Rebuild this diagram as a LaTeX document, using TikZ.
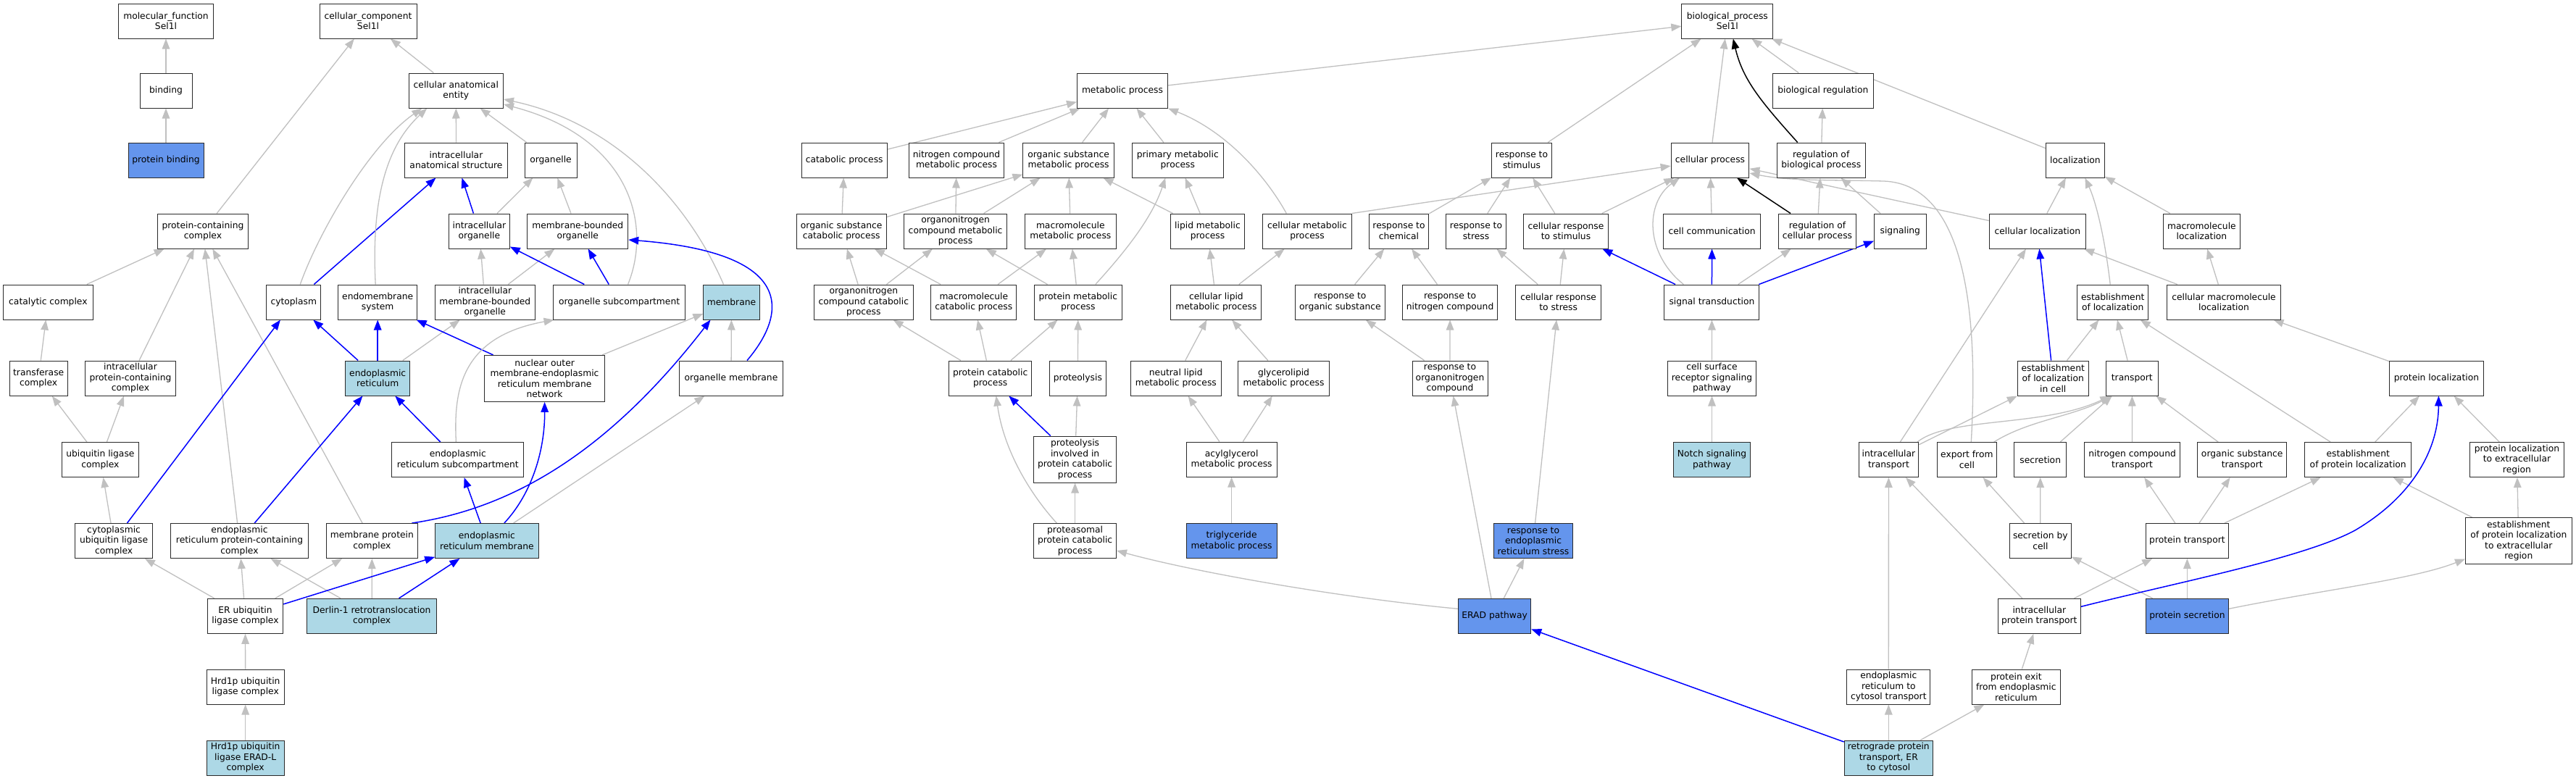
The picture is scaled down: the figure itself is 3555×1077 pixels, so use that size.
\documentclass[tikz,border=0pt]{standalone}
\usepackage{fontspec}
\setmainfont{DejaVu Sans}
\usetikzlibrary{arrows.meta}
\pgfdeclarelayer{bg}
\pgfsetlayers{bg,main}
\definecolor{edgegray}{HTML}{C0C0C0}
\definecolor{lblue}{HTML}{ADD8E6}
\definecolor{cblue}{HTML}{6495ED}
\definecolor{boxline}{HTML}{2A2A2A}
\newcommand{\gonode}[5][]{\node[gobox,minimum width=#3pt,#1] (#2) at (#4) {#5};}
\begin{document}
\begin{tikzpicture}[x=1pt,y=-1pt,
  gobox/.style={draw=boxline, line width=1.0pt, fill=white, rectangle, align=center, inner sep=0pt, minimum height=48pt, font=\fontsize{12.3}{14.5}\selectfont},
  tall/.style={minimum height=64pt},
  hi/.style={fill=lblue},
  hit/.style={fill=cblue},
  grayedge/.style={draw=edgegray, line width=1.3pt, -{Triangle[length=14pt,width=10.5pt]}},
  blueedge/.style={draw=blue, line width=1.5pt, -{Triangle[length=14pt,width=10.5pt]}},
  blackedge/.style={draw=black, line width=1.5pt, -{Triangle[length=14pt,width=10.5pt]}}]
\useasboundingbox (0,0) rectangle (3555,1077);
% ---------- left: molecular function / cellular component
\gonode{mf}{131}{229,29}{molecular\_function\\Sel1l}
\gonode{cc}{134}{508,29}{cellular\_component\\Sel1l}
\gonode{binding}{72}{229,125}{binding}
\gonode[hit]{pbind}{104}{229,221}{protein binding}
\gonode{pcc}{125}{280,319}{protein-containing\\complex}
\gonode{catc}{123.6}{66.4,417}{catalytic complex}
\gonode{cytop}{75}{405.3,417}{cytoplasm}
\gonode{endo}{109.5}{521.2,417}{endomembrane\\system}
\gonode{trans}{80.4}{53.2,522}{transferase\\complex}
\gonode{ipcc}{125.5}{180,522}{intracellular\\protein-containing\\complex}
\gonode[hi]{er}{88.8}{521.2,522}{endoplasmic\\reticulum}
\gonode{cae}{130.4}{629.3,125}{cellular anatomical\\entity}
\gonode{ias}{141.5}{629.5,221}{intracellular\\anatomical structure}
\gonode{organelle}{72}{760,221}{organelle}
\gonode{iorg}{83.8}{661.4,319}{intracellular\\organelle}
\gonode{mbo}{138.9}{797.3,319}{membrane-bounded\\organelle}
\gonode{imbo}{138.5}{669.3,417}{intracellular\\membrane-bounded\\organelle}
\gonode{osub}{181.8}{854.6,417}{organelle subcompartment}
\gonode[hi]{membrane}{77.3}{1009.5,417}{membrane}
\gonode[tall]{nuc}{165.7}{751.6,522.4}{nuclear outer\\membrane-endoplasmic\\reticulum membrane\\network}
\gonode{orgmem}{142.3}{1009,522}{organelle membrane}
\gonode{ubl}{106.8}{138.4,634.5}{ubiquitin ligase\\complex}
\gonode{erbsub}{182}{631.8,634.5}{endoplasmic\\reticulum subcompartment}
\gonode{cubl}{106.8}{157.1,746.5}{cytoplasmic\\ubiquitin ligase\\complex}
\gonode{erpcc}{190.2}{330.5,746.5}{endoplasmic\\reticulum protein-containing\\complex}
\gonode{mpc}{126}{513.4,746.5}{membrane protein\\complex}
\gonode[hi]{erm}{142.4}{671.9,746.5}{endoplasmic\\reticulum membrane}
\gonode{erubl}{104.5}{338.5,850.3}{ER ubiquitin\\ligase complex}
\gonode[hi]{derlin}{179}{513.1,850.3}{Derlin-1 retrotranslocation\\complex}
\gonode{hrd}{107.2}{338.7,948}{Hrd1p ubiquitin\\ligase complex}
\gonode[hi]{hrdl}{107.2}{338.7,1046}{Hrd1p ubiquitin\\ligase ERAD-L\\complex}
% ---------- middle: metabolic
\gonode{met}{125}{1549,125}{metabolic process}
\gonode{catp}{118.3}{1165.2,221}{catabolic process}
\gonode{ncmp}{131.2}{1320,221}{nitrogen compound\\metabolic process}
\gonode{osmp}{125.4}{1474.6,221}{organic substance\\metabolic process}
\gonode{pmp}{125.9}{1625.3,221}{primary metabolic\\process}
\gonode{oscp}{123.6}{1161.2,319}{organic substance\\catabolic process}
\gonode{oncmp}{142}{1318.6,319}{organonitrogen\\compound metabolic\\process}
\gonode{mmp}{125.4}{1477.3,319}{macromolecule\\metabolic process}
\gonode{lmp}{102.3}{1666.5,319}{lipid metabolic\\process}
\gonode{cmp}{122.5}{1804,319}{cellular metabolic\\process}
\gonode{onccp}{136.6}{1191.8,417}{organonitrogen\\compound catabolic\\process}
\gonode{mcp}{118.3}{1343.8,417}{macromolecule\\catabolic process}
\gonode{protmp}{120.5}{1487.8,417}{protein metabolic\\process}
\gonode{clmp}{125}{1678.4,417}{cellular lipid\\metabolic process}
\gonode{pcp}{114.3}{1366.7,522}{protein catabolic\\process}
\gonode{proteo}{77.9}{1487.4,522}{proteolysis}
\gonode{nlmp}{125.6}{1622.8,522}{neutral lipid\\metabolic process}
\gonode{glmp}{125.6}{1771.5,522}{glycerolipid\\metabolic process}
\gonode[tall]{proinv}{113.7}{1483.6,634}{proteolysis\\involved in\\protein catabolic\\process}
\gonode{acyl}{125}{1699.6,634}{acylglycerol\\metabolic process}
\gonode{proteas}{113.7}{1483.6,746.5}{proteasomal\\protein catabolic\\process}
\gonode[hit]{trig}{125}{1699.6,746.5}{triglyceride\\metabolic process}
\gonode[hit]{rerstress}{108.7}{2116,746.5}{response to\\endoplasmic\\reticulum stress}
\gonode[hit]{erad}{100.3}{2062.6,850.3}{ERAD pathway}
% ---------- right: biological process
\gonode{bp}{126}{2383.8,29}{biological\_process\\Sel1l}
\gonode{bioreg}{139}{2515.8,125}{biological regulation}
\gonode{rstim}{82.6}{2100,221}{response to\\stimulus}
\gonode{cellp}{107.7}{2360,221}{cellular process}
\gonode{rbp}{122.4}{2513.2,221}{regulation of\\biological process}
\gonode{loc}{80.5}{2863.9,221}{localization}
\gonode{rchem}{82.6}{1930.5,319}{response to\\chemical}
\gonode{rstress}{83.2}{2037,319}{response to\\stress}
\gonode{crstim}{117.4}{2161,319}{cellular response\\to stimulus}
\gonode{ccomm}{134.7}{2362.6,319}{cell communication}
\gonode{rcp}{107}{2508,319}{regulation of\\cellular process}
\gonode{signaling}{71.6}{2622.3,319}{signaling}
\gonode{cloc}{133.2}{2811.8,319}{cellular localization}
\gonode{mloc}{106.6}{3038.4,319}{macromolecule\\localization}
\gonode{ros}{123.4}{1849.4,417}{response to\\organic substance}
\gonode{rnc}{131.1}{2001.1,417}{response to\\nitrogen compound}
\gonode{crstress}{117.9}{2150.6,417}{cellular response\\to stress}
\gonode{sigtr}{131.1}{2362.4,417}{signal transduction}
\gonode{eloc}{98.4}{2915.7,417}{establishment\\of localization}
\gonode{cmloc}{157.4}{3069,417}{cellular macromolecule\\localization}
\gonode{rono}{104}{2001,522}{response to\\organonitrogen\\compound}
\gonode{csrsp}{122.5}{2362.5,522}{cell surface\\receptor signaling\\pathway}
\gonode{elocc}{98.4}{2833.2,522}{establishment\\of localization\\in cell}
\gonode{transport}{71.8}{2942.3,522}{transport}
\gonode{ploc}{130.1}{3362.4,522}{protein localization}
\gonode[hi]{notch}{106.6}{2362.5,634.5}{Notch signaling\\pathway}
\gonode{itrans}{82.3}{2606.4,634.5}{intracellular\\transport}
\gonode{expc}{82}{2714.3,634.5}{export from\\cell}
\gonode{secr}{72.2}{2815.7,634.5}{secretion}
\gonode{nct}{131.3}{2942.6,634.5}{nitrogen compound\\transport}
\gonode{ost}{123.1}{3094.2,634.5}{organic substance\\transport}
\gonode{eploc}{147}{3254.2,634.5}{establishment\\of protein localization}
\gonode{plocer}{129.9}{3473.4,634.5}{protein localization\\to extracellular\\region}
\gonode{secbc}{84.7}{2815.8,746.5}{secretion by\\cell}
\gonode{ptrans}{114.2}{3018.4,746.5}{protein transport}
\gonode[tall]{eplocer}{146.6}{3475.8,746.5}{establishment\\of protein localization\\to extracellular\\region}
\gonode{iptrans}{114.2}{2814.3,850.3}{intracellular\\protein transport}
\gonode[hit]{psecr}{114.2}{3018.4,850.3}{protein secretion}
\gonode{ercyt}{115}{2606.3,948}{endoplasmic\\reticulum to\\cytosol transport}
\gonode{pexit}{122.3}{2782.3,948}{protein exit\\from endoplasmic\\reticulum}
\gonode[hi]{retro}{122.3}{2606.3,1046}{retrograde protein\\transport, ER\\to cytosol}
% ---------- edges
\begin{pgfonlayer}{bg}
\fill[white] (0,0) rectangle (3555,1077);
\foreach \a/\b in {binding/mf, pbind/binding, pcc/cc, cae/cc, ias/cae, organelle/cae,
  iorg/organelle, mbo/organelle, imbo/iorg, imbo/mbo, orgmem/membrane, nuc/membrane,
  catc/pcc, ipcc/pcc, erpcc/pcc, mpc/pcc, trans/catc, ubl/trans, ubl/ipcc, cubl/ubl,
  er/imbo, erm/orgmem, erubl/cubl, erubl/erpcc, erubl/mpc, derlin/erpcc, derlin/mpc,
  hrd/erubl, hrdl/hrd,
  met/bp, catp/met, ncmp/met, osmp/met, pmp/met, oscp/catp, oscp/osmp, oncmp/ncmp,
  oncmp/osmp, mmp/osmp, lmp/osmp, lmp/pmp, onccp/oscp, onccp/oncmp, mcp/oscp, mcp/mmp,
  protmp/oncmp, protmp/mmp, clmp/lmp, clmp/cmp, pcp/onccp, pcp/mcp, pcp/protmp,
  proteo/protmp, nlmp/clmp, glmp/clmp, proinv/proteo, acyl/nlmp, acyl/glmp,
  proteas/proinv, trig/acyl, erad/rono, erad/rerstress, rerstress/crstress,
  retro/ercyt, retro/pexit,
  rstim/bp, cellp/bp, bioreg/bp, loc/bp, rbp/bioreg, rchem/rstim, rstress/rstim,
  crstim/rstim, crstim/cellp, ccomm/cellp, rcp/rbp, signaling/rbp, sigtr/rcp,
  ros/rchem, rnc/rchem, crstress/rstress, crstress/crstim, rono/ros, rono/rnc,
  csrsp/sigtr, notch/csrsp, cloc/cellp, cloc/loc, mloc/loc, elocc/eloc, cmloc/cloc,
  cmloc/mloc, transport/eloc, itrans/cloc, itrans/elocc, secr/transport,
  nct/transport, ost/transport, eploc/eloc, eploc/ploc, ploc/cmloc, plocer/ploc,
  iptrans/itrans, iptrans/ptrans, ptrans/nct, ptrans/ost, ptrans/eploc, secbc/expc,
  secbc/secr, psecr/secbc, psecr/ptrans, eplocer/eploc, eplocer/plocer,
  ercyt/itrans, pexit/iptrans}
  \draw[grayedge] (\a) -- (\b);
\draw[grayedge] (cmp.north east) -- (cellp);
\foreach \a/\b in {cytop/ias, iorg/ias, osub/iorg, osub/mbo, cubl/cytop, er/cytop,
  er/endo, nuc/endo, erbsub/er, erpcc/er, erm/erbsub, erubl/erm, derlin/erm,
  proinv/pcp, retro/erad, sigtr/crstim, sigtr/ccomm, sigtr/signaling, elocc/cloc}
  \draw[blueedge] (\a) -- (\b);
\draw[blackedge] (rcp) -- (cellp);
% curved edges
\draw[grayedge] ([xshift=9]cytop.north) .. controls (440,320) and (510,200) .. ([xshift=-47]cae.south);
\draw[grayedge] ([xshift=-3]endo.north) .. controls (512,270) and (535,200) .. ([xshift=-40]cae.south);
\draw[grayedge] ([xshift=12]osub.north) .. controls (900,310) and (870,190) .. ([yshift=-19]cae.east);
\draw[grayedge] ([xshift=-11]membrane.north) .. controls (950,280) and (850,170) .. ([yshift=-12]cae.east);
\draw[blueedge] ([xshift=22]orgmem.north) .. controls (1080,440) and (1110,350) .. ([yshift=-12]mbo.east);
\draw[blueedge] ([xshift=-8.4]mpc.north east) .. controls (720,700) and (850,610) .. ([xshift=-29]membrane.south);
\draw[blueedge] ([xshift=24]erm.north) .. controls (735,680) and (752,620) .. (nuc.south);
\draw[grayedge] ([xshift=-2.4]erbsub.north) .. controls (626,540) and (635,465) .. ([xshift=-90]osub.south);
\draw[grayedge] ([xshift=-28.7]cmp.north) .. controls (1745,240) and (1690,180) .. (met.south east);
\draw[grayedge] ([xshift=24]protmp.north) .. controls (1555,345) and (1590,300) .. ([xshift=-17]pmp.south);
\draw[grayedge] ([xshift=-25.3]proteas.north) .. controls (1420,680) and (1385,620) .. ([xshift=8]pcp.south);
\draw[grayedge] ([yshift=10]erad.west) .. controls (1850,825) and (1650,790) .. ([yshift=-13.5]proteas.east);
\draw[grayedge] ([xshift=-39]sigtr.north) .. controls (2270,350) and (2270,280) .. ([xshift=-42]cellp.south);
\draw[grayedge] ([xshift=6]expc.north) .. controls (2730,440) and (2715,255) .. (2600,250) .. controls (2520,248) and (2470,250) .. ([yshift=-18]cellp.east);
\draw[grayedge] ([xshift=-2]itrans.north east) .. controls (2690,575) and (2820,590) .. ([xshift=-30]transport.south);
\draw[grayedge] ([xshift=-4]expc.north east) .. controls (2800,580) and (2860,575) .. ([xshift=-28]transport.south);
\draw[grayedge] ([xshift=-3.5]eloc.north) .. controls (2905,330) and (2893,280) .. ([xshift=13.5]loc.south);
\draw[blueedge] ([yshift=13]iptrans.east) .. controls (3000,805) and (3180,770) .. (3250,732) .. controls (3330,685) and (3365,620) .. ([xshift=3]ploc.south);
\draw[blackedge] ([xshift=-32.5]rbp.north) .. controls (2430,140) and (2405,110) .. ([xshift=8]bp.south);
\draw[grayedge] ([yshift=10]psecr.east) .. controls (3200,815) and (3330,800) .. ([yshift=-25]eplocer.west);
\end{pgfonlayer}
\end{tikzpicture}
\end{document}
